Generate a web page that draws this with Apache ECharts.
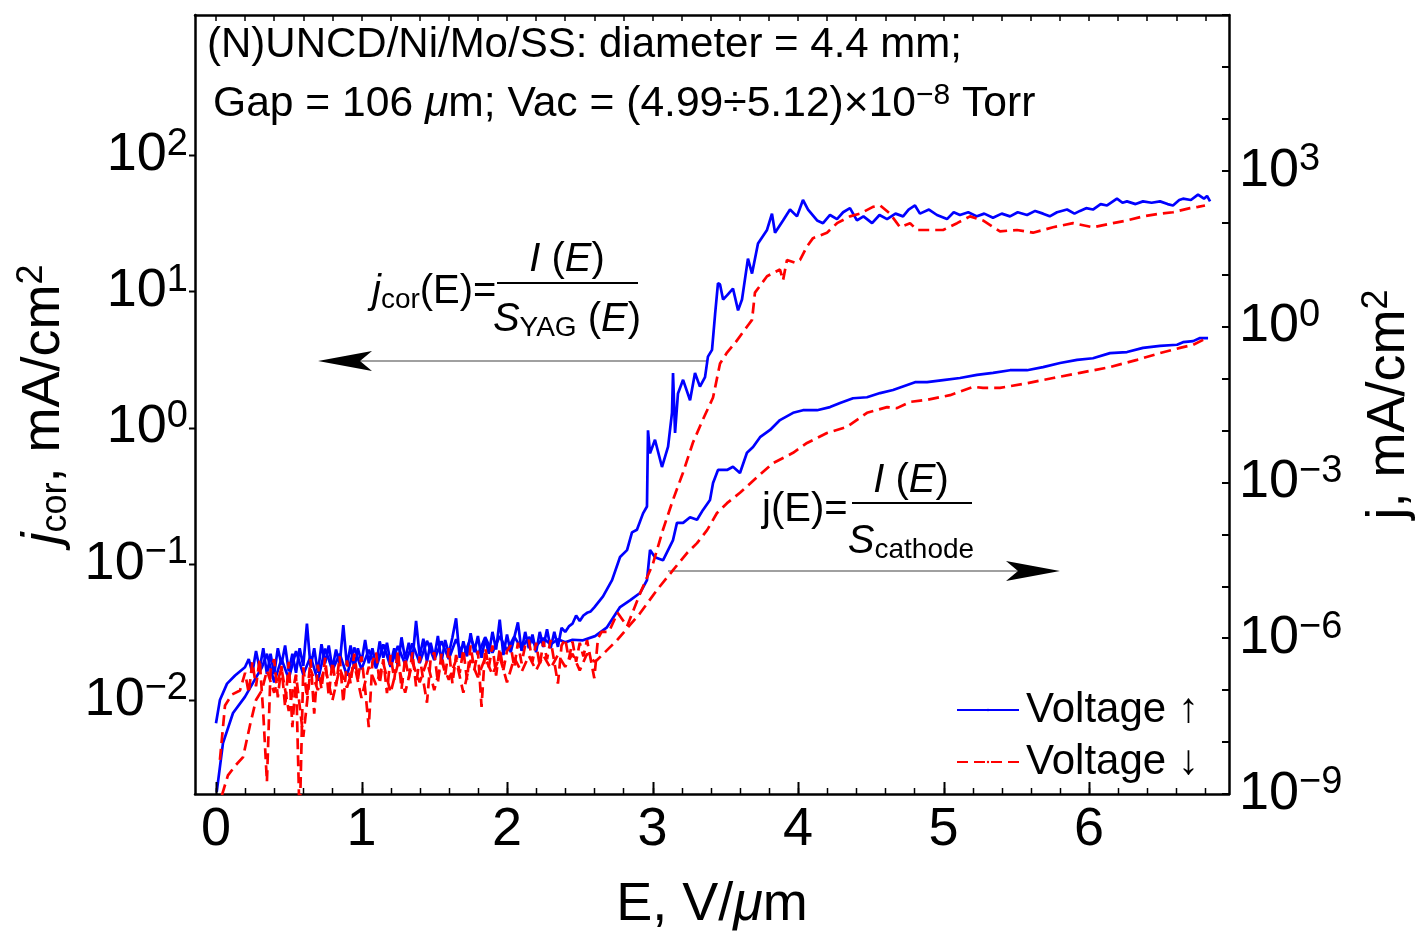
<!DOCTYPE html>
<html lang="en">
<head>
<meta charset="UTF-8">
<title>(N)UNCD/Ni/Mo/SS field emission</title>
<script src="https://cdn.jsdelivr.net/npm/echarts@6.0.0/dist/echarts.min.js"></script>
<style>
  html, body { margin: 0; padding: 0; background: #fff; }
  #chart { width: 1425px; height: 946px; }
</style>
</head>
<body>
<div id="chart"></div>
<script>
// [E (V/um), log10 j]; both y axes are decade (log10) scales
const blueJcor = [[0,-2.17],[0.027,-2.0],[0.076,-1.88],[0.131,-1.82],[0.199,-1.76],
  [0.225,-1.70],[0.25,-1.80],[0.275,-1.64],[0.3,-1.77],[0.325,-1.62],[0.35,-1.81],[0.375,-1.66],[0.4,-1.81],[0.425,-1.62],[0.45,-1.74],
  [0.475,-1.60],[0.5,-1.79],[0.525,-1.66],[0.55,-1.80],[0.575,-1.62],[0.6,-1.75],[0.625,-1.44],[0.65,-1.76],[0.675,-1.62],[0.7,-1.80],
  [0.725,-1.59],[0.75,-1.73],[0.775,-1.60],[0.8,-1.77],[0.825,-1.63],[0.85,-1.74],[0.875,-1.45],[0.9,-1.75],[0.925,-1.60],[0.95,-1.77],
  [0.975,-1.62],[1.0,-1.72],[1.025,-1.56],[1.05,-1.73],[1.075,-1.62],[1.1,-1.75],[1.125,-1.57],[1.15,-1.69],[1.175,-1.58],[1.2,-1.73],
  [1.225,-1.62],[1.25,-1.75],[1.275,-1.54],[1.3,-1.70],[1.325,-1.58],[1.35,-1.71],[1.375,-1.42],[1.4,-1.68],[1.425,-1.55],[1.45,-1.72],
  [1.475,-1.58],[1.5,-1.69],[1.525,-1.53],[1.55,-1.72],[1.575,-1.56],[1.6,-1.66],[1.625,-1.54],[1.65,-1.40],[1.675,-1.69],[1.7,-1.57],
  [1.725,-1.68],[1.75,-1.51],[1.775,-1.65],[1.8,-1.53],[1.825,-1.69],[1.85,-1.55],[1.875,-1.66],[1.9,-1.50],[1.925,-1.63],[1.95,-1.41],
  [1.975,-1.67],[2.0,-1.52],[2.025,-1.65],[2.05,-1.54],[2.075,-1.43],[2.1,-1.64],[2.125,-1.50],[2.15,-1.62],[2.175,-1.52],[2.2,-1.65],
  [2.225,-1.50],[2.25,-1.61],[2.275,-1.48],[2.3,-1.62],[2.325,-1.50],[2.35,-1.61],[2.375,-1.47],[2.4,-1.50],[2.425,-1.46],[2.45,-1.44],
  [2.475,-1.38],[2.5,-1.42],[2.525,-1.38],[2.55,-1.36],[2.575,-1.35],[2.6,-1.32],
  [2.66,-1.24],[2.722,-1.12],[2.777,-0.95],[2.825,-0.90],[2.859,-0.77],[2.893,-0.75],[2.935,-0.63],[2.962,-0.58],[2.969,-0.02],[2.983,-0.19],
  [3.017,-0.09],[3.065,-0.29],[3.107,-0.14],[3.134,0.11],[3.141,0.40],[3.155,-0.04],[3.175,0.25],[3.21,0.35],[3.258,0.20],[3.292,0.40],
  [3.326,0.30],[3.361,0.37],[3.381,0.52],[3.409,0.57],[3.43,0.83],[3.45,1.06],[3.464,1.05],[3.485,0.94],[3.512,0.97],[3.553,1.02],
  [3.588,0.86],[3.615,0.94],[3.656,1.24],[3.684,1.13],[3.725,1.35],[3.787,1.45],[3.821,1.57],[3.842,1.43],[3.897,1.52],[3.945,1.60],
  [3.993,1.55],[4.034,1.67],[4.069,1.60],[4.131,1.52],[4.172,1.50],[4.22,1.56],[4.268,1.53],[4.31,1.58],[4.357,1.61],[4.405,1.52],
  [4.45,1.55],[4.509,1.50],[4.56,1.56],[4.612,1.53],[4.67,1.57],[4.722,1.55],[4.76,1.60],[4.804,1.63],[4.838,1.57],[4.9,1.60],
  [4.955,1.56],[5.024,1.53],[5.07,1.58],[5.113,1.56],[5.17,1.58],[5.23,1.55],[5.28,1.57],[5.34,1.54],[5.4,1.57],[5.457,1.55],
  [5.51,1.58],[5.574,1.56],[5.63,1.59],[5.684,1.57],[5.73,1.55],[5.78,1.58],[5.849,1.60],[5.9,1.57],[5.938,1.59],[5.98,1.61],
  [6.027,1.60],[6.08,1.64],[6.124,1.63],[6.192,1.68],[6.23,1.65],[6.261,1.66],[6.32,1.64],[6.371,1.66],[6.43,1.65],[6.488,1.66],
  [6.54,1.64],[6.577,1.63],[6.62,1.67],[6.646,1.68],[6.7,1.67],[6.749,1.71],[6.79,1.68],[6.811,1.70],[6.832,1.66]];

const redJcor = [[0.027,-2.44],[0.062,-2.04],[0.11,-1.96],[0.165,-1.93],
  [0.2,-1.80],[0.225,-1.95],[0.25,-1.72],[0.275,-1.90],[0.3,-1.70],[0.325,-2.10],[0.35,-2.6],[0.375,-1.78],[0.4,-1.70],[0.425,-1.98],
  [0.45,-1.75],[0.475,-2.05],[0.5,-1.72],[0.525,-2.20],[0.55,-1.82],[0.575,-2.9],[0.6,-1.76],[0.625,-1.98],[0.65,-1.70],[0.675,-2.10],
  [0.7,-1.74],[0.725,-1.92],[0.75,-1.69],[0.775,-1.97],[0.8,-1.72],[0.825,-1.90],[0.85,-1.68],[0.875,-2.02],[0.9,-1.71],[0.925,-1.88],
  [0.95,-1.66],[0.975,-1.85],[1.0,-1.68],[1.025,-1.92],[1.05,-2.20],[1.075,-1.72],[1.1,-1.65],[1.125,-1.88],[1.15,-1.70],[1.175,-1.95],
  [1.2,-1.67],[1.225,-1.85],[1.25,-1.64],[1.275,-1.92],[1.3,-1.69],[1.325,-1.84],[1.35,-1.65],[1.375,-1.90],[1.4,-1.68],[1.425,-1.86],
  [1.45,-2.02],[1.475,-1.70],[1.5,-1.65],[1.525,-1.87],[1.55,-1.66],[1.575,-1.82],[1.6,-1.62],[1.625,-1.88],[1.65,-1.67],[1.675,-1.80],
  [1.7,-1.63],[1.725,-1.85],[1.75,-1.60],[1.775,-1.78],[1.8,-1.64],[1.825,-2.05],[1.85,-1.62],[1.875,-1.76],[1.9,-1.60],[1.925,-1.82],
  [1.95,-1.62],[1.975,-1.78],[2.0,-1.64],[2.025,-1.60],[2.05,-1.76],[2.075,-1.58],[2.1,-1.73],[2.125,-1.60],[2.15,-1.56],[2.175,-1.72],
  [2.2,-1.58],[2.225,-1.75],[2.25,-1.57],[2.275,-1.70],[2.3,-1.56],[2.325,-1.72],[2.35,-1.88],[2.375,-1.60],[2.4,-1.55],[2.425,-1.70],
  [2.45,-1.57],[2.475,-1.72],[2.5,-1.58],[2.525,-1.68],[2.55,-1.56],[2.575,-1.70],[2.6,-1.84],[2.625,-1.55],[2.65,-1.50],
  [2.7,-1.50],[2.76,-1.36],[2.8,-1.42],[2.825,-1.46],[2.914,-1.22],[3.003,-1.00],[3.072,-0.75],[3.141,-0.53],[3.21,-0.33],[3.278,-0.11],
  [3.347,0.06],[3.416,0.22],[3.464,0.47],[3.512,0.55],[3.567,0.62],[3.649,0.74],[3.684,0.79],[3.704,0.99],[3.787,1.11],[3.876,1.16],
  [3.897,1.08],[3.924,1.23],[3.979,1.21],[4.014,1.23],[4.062,1.33],[4.103,1.39],[4.199,1.43],[4.268,1.50],[4.357,1.55],[4.426,1.57],
  [4.515,1.62],[4.564,1.63],[4.632,1.57],[4.701,1.47],[4.77,1.50],[4.818,1.45],[4.907,1.45],[4.997,1.45],[5.093,1.50],[5.182,1.55],
  [5.271,1.52],[5.388,1.44],[5.505,1.45],[5.615,1.43],[5.753,1.47],[5.89,1.50],[6.027,1.47],[6.165,1.50],[6.261,1.52],[6.371,1.55],
  [6.488,1.57],[6.577,1.58],[6.694,1.61],[6.749,1.62],[6.797,1.63]];

const blueJ = [[0.005,-8.96],[0.048,-8.02],[0.117,-7.44],[0.199,-7.13],[0.254,-6.86],[0.316,-6.56],
  [0.35,-6.30],[0.4,-6.85],[0.45,-6.40],[0.5,-6.78],[0.55,-6.25],[0.6,-6.70],[0.65,-6.35],[0.7,-6.82],[0.75,-6.20],[0.8,-6.62],
  [0.85,-6.30],[0.9,-6.72],[0.95,-6.18],[1.0,-6.60],[1.05,-6.22],[1.1,-6.58],[1.15,-6.12],[1.2,-6.55],[1.25,-6.15],[1.3,-6.50],
  [1.35,-6.10],[1.4,-6.48],[1.45,-6.05],[1.5,-6.42],[1.55,-6.06],[1.6,-6.40],[1.65,-6.02],[1.7,-6.36],[1.75,-6.00],[1.8,-6.32],
  [1.85,-5.98],[1.9,-6.28],[1.95,-5.96],[2.0,-6.24],[2.05,-5.97],[2.1,-6.20],[2.15,-5.98],[2.2,-6.15],[2.25,-6.00],[2.3,-6.12],
  [2.35,-6.02],[2.4,-6.08],[2.45,-6.03],
  [2.522,-6.04],[2.605,-5.96],[2.687,-5.79],[2.777,-5.40],[2.845,-5.27],[2.914,-5.13],[2.962,-4.88],[2.983,-4.30],[3.017,-4.44],[3.072,-4.50],
  [3.141,-4.11],[3.168,-3.78],[3.21,-3.78],[3.258,-3.67],[3.306,-3.72],[3.347,-3.53],[3.395,-3.34],[3.416,-3.01],[3.45,-2.76],[3.512,-2.76],
  [3.553,-2.70],[3.601,-2.82],[3.649,-2.43],[3.691,-2.32],[3.739,-2.13],[3.808,-1.99],[3.876,-1.80],[3.966,-1.66],[4.034,-1.61],[4.131,-1.61],
  [4.22,-1.55],[4.289,-1.47],[4.378,-1.38],[4.474,-1.36],[4.564,-1.28],[4.653,-1.22],[4.804,-1.07],[4.887,-1.07],[4.997,-1.03],[5.113,-0.99],
  [5.23,-0.93],[5.34,-0.89],[5.457,-0.84],[5.574,-0.84],[5.684,-0.78],[5.801,-0.70],[5.918,-0.64],[6.027,-0.61],[6.144,-0.51],[6.261,-0.49],
  [6.371,-0.41],[6.488,-0.37],[6.605,-0.35],[6.646,-0.30],[6.715,-0.28],[6.763,-0.22],[6.818,-0.22]];

const redJ = [[0.041,-9.02],[0.082,-8.64],[0.137,-8.44],[0.186,-8.29],[0.234,-7.67],[0.275,-7.19],[0.316,-7.00],
  [0.35,-6.62],[0.4,-7.05],[0.45,-6.58],[0.5,-7.40],[0.55,-6.70],[0.6,-7.90],[0.65,-6.60],[0.7,-7.00],[0.75,-6.55],[0.8,-7.20],
  [0.85,-6.58],[0.9,-6.95],[0.95,-6.50],[1.0,-7.15],[1.05,-6.55],[1.1,-6.90],[1.15,-6.48],[1.2,-7.05],[1.25,-6.50],[1.3,-7.05],
  [1.35,-6.47],[1.4,-6.85],[1.45,-6.44],[1.5,-7.00],[1.55,-6.45],[1.6,-6.80],[1.65,-6.42],[1.7,-7.05],[1.75,-6.42],[1.8,-6.75],
  [1.85,-6.38],[1.9,-6.70],[1.95,-6.36],[2.0,-6.85],[2.05,-6.38],[2.1,-6.65],[2.15,-6.34],[2.2,-6.62],[2.25,-6.33],[2.3,-6.58],
  [2.35,-6.32],[2.4,-6.55],[2.45,-6.30],[2.5,-6.62],[2.55,-6.30],[2.6,-6.45],
  [2.619,-6.42],[2.756,-6.04],[2.914,-5.52],[3.031,-5.07],[3.141,-4.69],[3.237,-4.36],[3.306,-4.17],[3.375,-3.92],[3.443,-3.59],[3.512,-3.40],
  [3.601,-3.20],[3.718,-2.90],[3.828,-2.63],[3.966,-2.43],[4.062,-2.24],[4.199,-2.05],[4.337,-1.93],[4.474,-1.66],[4.612,-1.55],[4.68,-1.57],
  [4.77,-1.45],[4.887,-1.41],[5.045,-1.32],[5.203,-1.16],[5.271,-1.18],[5.388,-1.18],[5.574,-1.09],[5.753,-0.99],[5.938,-0.89],[6.144,-0.78],
  [6.33,-0.64],[6.488,-0.51],[6.625,-0.41],[6.715,-0.35],[6.811,-0.22]];

const xMajor = [0, 1, 2, 3, 4, 5, 6];
const xMinor = [0, 0.2, 0.4, 0.6, 0.8, 1, 1.2, 1.4, 1.6, 1.8, 2, 2.2, 2.4, 2.6, 2.8, 3, 3.2, 3.4, 3.6, 3.8,
  4, 4.2, 4.4, 4.6, 4.8, 5, 5.2, 5.4, 5.6, 5.8, 6, 6.2, 6.4, 6.6, 6.8];
// decade exponents
const leftDecades = [-2, -1, 0, 1, 2];
const rightLabelDecades = [-9, -6, -3, 0, 3];
const rightTickDecades = [-9, -8, -7, -6, -5, -4, -3, -2, -1, 0, 1, 2, 3, 4, 5, 6];
const legendNames = ['Voltage \u2191', 'Voltage \u2193'];

const FONT = 'Liberation Sans';
const BLACK = '#000';
const LINE_W = 2.7;
const DASH = [11, 6];

const GRID = { left: 195, top: 15, width: 1034, height: 779 };
const X_MIN = -0.1443, X_MAX = 6.962;
const L_MIN = -2.690, L_MAX = 3.028;

function powLabel(v) {
  const e = Math.round(v);
  const s = e < 0 ? '\u2212' + (-e) : String(e);
  return '{b|10}{s|' + s + '}';
}

const powRich = {
  b: { fontSize: 54, fontFamily: FONT, color: BLACK, lineHeight: 60 },
  s: { fontSize: 38, fontFamily: FONT, color: BLACK, lineHeight: 24, verticalAlign: 'top' }
};

const textRich = {
  n: { fontSize: 40, fontFamily: FONT, color: BLACK, lineHeight: 44 },
  i: { fontSize: 40, fontFamily: FONT, color: BLACK, lineHeight: 44, fontStyle: 'italic' },
  sub: { fontSize: 28, fontFamily: FONT, color: BLACK, lineHeight: 22, verticalAlign: 'bottom' }
};

function frameLine() {
  return { show: true, onZero: false, lineStyle: { color: BLACK, width: 2.5 } };
}

// frame ticks for the bottom (inward) and left (outward) edges, from the same linear mapping as the grid
function xToPx(v) { return GRID.left + (v - X_MIN) / (X_MAX - X_MIN) * GRID.width; }
function lToPx(v) { return GRID.top + (L_MAX - v) / (L_MAX - L_MIN) * GRID.height; }
const yBottom = GRID.top + GRID.height;
const tickEls = [];
xMinor.forEach(v => {
  const px = Math.round(xToPx(v)) + 0.5;
  tickEls.push({ type: 'line', z: 100, shape: { x1: px, y1: yBottom, x2: px, y2: yBottom - 6 }, style: { stroke: BLACK, lineWidth: 1.5 } });
});
xMajor.forEach(v => {
  const px = Math.round(xToPx(v)) + 0.5;
  tickEls.push({ type: 'line', z: 100, shape: { x1: px, y1: yBottom, x2: px, y2: yBottom - 12 }, style: { stroke: BLACK, lineWidth: 2 } });
});
leftDecades.forEach(v => {
  const py = Math.round(lToPx(v)) + 0.5;
  tickEls.push({ type: 'line', z: 100, shape: { x1: GRID.left - 6, y1: py, x2: GRID.left + 1, y2: py }, style: { stroke: BLACK, lineWidth: 2 } });
});

const annotations = [
  // header text
  { type: 'text', x: 207, y: 45, style: { text: '(N)UNCD/Ni/Mo/SS: diameter = 4.4 mm;', fontSize: 42, fontFamily: FONT, fill: BLACK, verticalAlign: 'middle' } },
  {
    type: 'text', x: 213, y: 104,
    style: {
      text: '{n|Gap = 106 }{i|\u03bc}{n|m; Vac = (4.99\u00f75.12)\u00d710}{s|\u22128}{n| Torr}',
      verticalAlign: 'middle', fontSize: 42.6, fontFamily: FONT, fill: BLACK,
      rich: {
        n: { fontSize: 42.6, fontFamily: FONT, fill: BLACK, lineHeight: 46 },
        i: { fontSize: 42.6, fontFamily: FONT, fill: BLACK, lineHeight: 46, fontStyle: 'italic' },
        s: { fontSize: 30, fontFamily: FONT, fill: BLACK, lineHeight: 22, verticalAlign: 'top' }
      }
    }
  },
  // j_cor annotation
  { type: 'text', x: 372, y: 292, style: { text: '{i|j}{sub|cor}{n|(E)=}', verticalAlign: 'middle', fontSize: 40, fontFamily: FONT, fill: BLACK, rich: textRich } },
  { type: 'text', x: 567, y: 260, style: { text: '{i|I} {n|(}{i|E}{n|)}', align: 'center', verticalAlign: 'middle', fontSize: 40, fontFamily: FONT, fill: BLACK, rich: textRich } },
  { type: 'line', shape: { x1: 497, y1: 283, x2: 638, y2: 283 }, style: { stroke: BLACK, lineWidth: 2 } },
  { type: 'text', x: 567, y: 320, style: { text: '{i|S}{sub|YAG} {n|(}{i|E}{n|)}', align: 'center', verticalAlign: 'middle', fontSize: 40, fontFamily: FONT, fill: BLACK, rich: textRich } },
  { type: 'line', shape: { x1: 708, y1: 361, x2: 340, y2: 361 }, style: { stroke: '#808080', lineWidth: 1.5 } },
  { type: 'polygon', shape: { points: [[318, 361], [372, 351], [360, 361], [372, 371]] }, style: { fill: BLACK } },
  // j annotation
  { type: 'text', x: 762, y: 510, style: { text: '{n|j(E)=}', verticalAlign: 'middle', fontSize: 40, fontFamily: FONT, fill: BLACK, rich: textRich } },
  { type: 'text', x: 911, y: 481, style: { text: '{i|I} {n|(}{i|E}{n|)}', align: 'center', verticalAlign: 'middle', fontSize: 40, fontFamily: FONT, fill: BLACK, rich: textRich } },
  { type: 'line', shape: { x1: 852, y1: 503, x2: 972, y2: 503 }, style: { stroke: BLACK, lineWidth: 2 } },
  { type: 'text', x: 911, y: 542, style: { text: '{i|S}{sub|cathode}', align: 'center', verticalAlign: 'middle', fontSize: 40, fontFamily: FONT, fill: BLACK, rich: textRich } },
  { type: 'line', shape: { x1: 668, y1: 571, x2: 1030, y2: 571 }, style: { stroke: '#808080', lineWidth: 1.5 } },
  { type: 'polygon', shape: { points: [[1060, 571], [1006, 561], [1018, 571], [1006, 581]] }, style: { fill: BLACK } }
];

const chart = echarts.init(document.getElementById('chart'));

const option = {
  animation: false,
  backgroundColor: '#fff',
  grid: { left: GRID.left, top: GRID.top, width: GRID.width, height: GRID.height, containLabel: false, outerBoundsMode: 'none' },
  legend: {
    data: legendNames,
    orient: 'vertical',
    left: 951,
    top: 684,
    itemWidth: 62,
    itemHeight: 3,
    itemGap: 10,
    selectedMode: false,
    textStyle: { fontSize: 42, fontFamily: FONT, color: BLACK, lineHeight: 42, padding: [0, 0, 0, 2] }
  },
  xAxis: [
    {
      type: 'value', position: 'bottom',
      min: X_MIN, max: X_MAX,
      axisLine: frameLine(),
      axisTick: { show: false },
      axisLabel: { customValues: xMajor, fontSize: 54, fontFamily: FONT, color: BLACK, margin: 9 },
      splitLine: { show: false },
      name: 'E, V/{i|\u03bc}m',
      nameLocation: 'middle',
      nameGap: 84,
      nameTextStyle: {
        fontSize: 54, fontFamily: FONT, color: BLACK,
        rich: { i: { fontSize: 54, fontFamily: FONT, color: BLACK, fontStyle: 'italic' } }
      }
    },
    {
      type: 'value', position: 'top',
      min: X_MIN, max: X_MAX,
      axisLine: frameLine(),
      axisTick: { show: true, customValues: xMinor, inside: true, length: 6, lineStyle: { color: BLACK, width: 1.5 } },
      axisLabel: { show: false },
      splitLine: { show: false }
    }
  ],
  yAxis: [
    {
      type: 'value', position: 'left',
      min: L_MIN, max: L_MAX,
      axisLine: frameLine(),
      axisTick: { show: false },
      axisLabel: { customValues: leftDecades, formatter: powLabel, rich: powRich, margin: 7 },
      splitLine: { show: false },
      name: '{i|j}{sub|cor}{n|, mA/cm}{sup|2}',
      nameLocation: 'middle',
      nameRotate: 90,
      nameGap: 120,
      nameTextStyle: {
        rich: {
          i: { fontSize: 54, fontFamily: FONT, color: BLACK, fontStyle: 'italic', lineHeight: 60 },
          n: { fontSize: 54, fontFamily: FONT, color: BLACK, lineHeight: 60 },
          sub: { fontSize: 36, fontFamily: FONT, color: BLACK, lineHeight: 26, verticalAlign: 'bottom' },
          sup: { fontSize: 36, fontFamily: FONT, color: BLACK, lineHeight: 26, verticalAlign: 'top' }
        }
      }
    },
    {
      type: 'value', position: 'right',
      min: -9, max: 6,
      axisLine: frameLine(),
      axisTick: { show: true, customValues: rightTickDecades, inside: true, length: 7, lineStyle: { color: BLACK, width: 2 } },
      axisLabel: { customValues: rightLabelDecades, formatter: powLabel, rich: powRich, margin: 10 },
      splitLine: { show: false },
      name: '{n|j, mA/cm}{sup|2}',
      nameLocation: 'middle',
      nameRotate: 90,
      nameGap: 130,
      nameTextStyle: {
        rich: {
          n: { fontSize: 54, fontFamily: FONT, color: BLACK, lineHeight: 60 },
          sup: { fontSize: 36, fontFamily: FONT, color: BLACK, lineHeight: 26, verticalAlign: 'top' }
        }
      }
    }
  ],
  series: [
    {
      name: legendNames[0], type: 'line', xAxisIndex: 0, yAxisIndex: 0,
      symbol: 'none', clip: true, data: blueJcor,
      lineStyle: { color: '#0000ff', width: LINE_W }, itemStyle: { color: '#0000ff' }
    },
    {
      name: legendNames[0], type: 'line', xAxisIndex: 0, yAxisIndex: 1,
      symbol: 'none', clip: true, data: blueJ,
      lineStyle: { color: '#0000ff', width: LINE_W }, itemStyle: { color: '#0000ff' }
    },
    {
      name: legendNames[1], type: 'line', xAxisIndex: 0, yAxisIndex: 0,
      symbol: 'none', clip: true, data: redJcor,
      lineStyle: { color: '#ff0000', width: LINE_W, type: DASH }, itemStyle: { color: '#ff0000' }
    },
    {
      name: legendNames[1], type: 'line', xAxisIndex: 0, yAxisIndex: 1,
      symbol: 'none', clip: true, data: redJ,
      lineStyle: { color: '#ff0000', width: LINE_W, type: DASH }, itemStyle: { color: '#ff0000' }
    }
  ],
  graphic: annotations.concat(tickEls)
};

chart.setOption(option);
window.addEventListener('resize', function () { chart.resize(); });
</script>
</body>
</html>
